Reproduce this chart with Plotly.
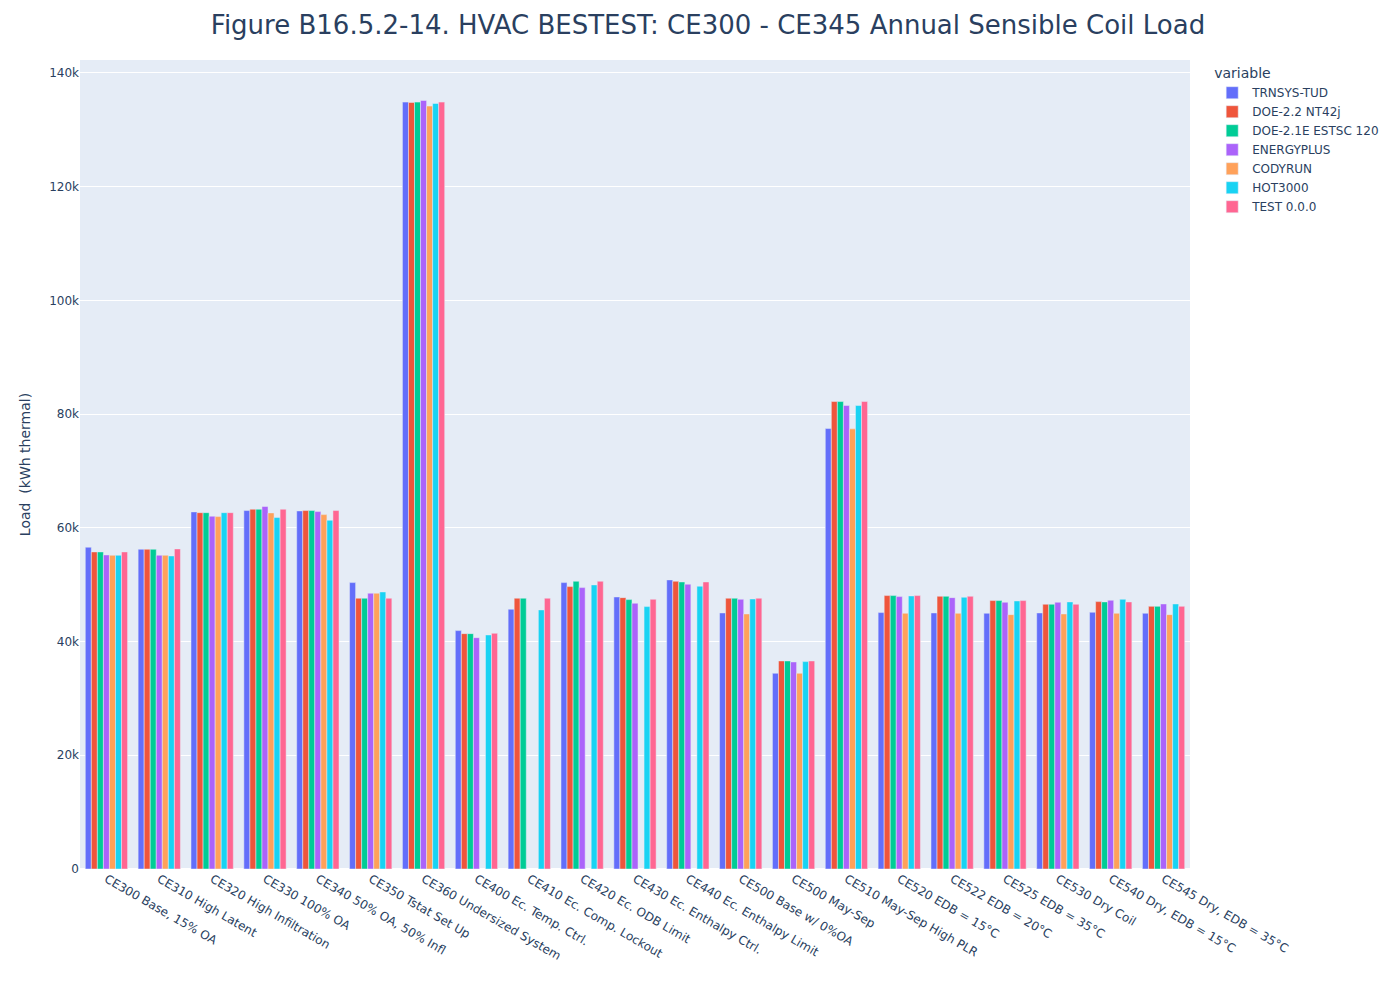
import plotly.graph_objects as go

cases = [
    "CE300 Base, 15% OA",
    "CE310 High Latent",
    "CE320 High Infiltration",
    "CE330 100% OA",
    "CE340 50% OA, 50% Infl",
    "CE350 Tstat Set Up",
    "CE360 Undersized System",
    "CE400 Ec. Temp. Ctrl.",
    "CE410 Ec. Comp. Lockout",
    "CE420 Ec. ODB Limit",
    "CE430 Ec. Enthalpy Ctrl.",
    "CE440 Ec. Enthalpy Limit",
    "CE500 Base w/ 0%OA",
    "CE500 May-Sep",
    "CE510 May-Sep High PLR",
    "CE520 EDB = 15°C",
    "CE522 EDB = 20°C",
    "CE525 EDB = 35°C",
    "CE530 Dry Coil",
    "CE540 Dry, EDB = 15°C",
    "CE545 Dry, EDB = 35°C",
]

# annual sensible coil load, kWh thermal (None = no result)
trnsys_tud = [56590, 56230, 62800, 63030, 62970, 50360, 134860, 41920, 45680, 50360, 47840,
              50840, 45030, 34420, 77450, 45090, 45030, 44970, 45030, 45150, 44970]
doe22_nt42j = [55760, 56230, 62660, 63270, 63030, 47620, 134800, 41390, 47620, 49660, 47720,
               50600, 47620, 36590, 82200, 48080, 47960, 47200, 46560, 47020, 46190]
doe21e_estsc = [55760, 56230, 62660, 63270, 63030, 47620, 134860, 41390, 47620, 50600, 47370,
                50480, 47620, 36590, 82200, 48080, 47960, 47200, 46560, 46970, 46190]
energyplus = [55230, 55170, 62040, 63740, 62850, 48500, 135150, 40680, None, 49480, 46730,
              50080, 47430, 36410, 81500, 47900, 47720, 46910, 46910, 47260, 46610]
codyrun = [55170, 55170, 61970, 62620, 62320, 48500, 134160, None, None, None, None,
           None, 44850, 34420, 77400, 44970, 44970, 44730, 44850, 44970, 44730]
hot3000 = [55170, 55050, 62660, 61800, 61330, 48720, 134620, 41160, 45560, 49960, 46140,
           49730, 47490, 36470, 81500, 48020, 47790, 47140, 46970, 47430, 46610]
test_000 = [55760, 56290, 62660, 63270, 63030, 47620, 134860, 41450, 47620, 50600, 47430,
            50480, 47620, 36590, 82200, 48080, 47960, 47200, 46560, 46970, 46190]

series = [
    ("TRNSYS-TUD", trnsys_tud, "#636EFA"),
    ("DOE-2.2 NT42j", doe22_nt42j, "#EF553B"),
    ("DOE-2.1E ESTSC 120", doe21e_estsc, "#00CC96"),
    ("ENERGYPLUS", energyplus, "#AB63FA"),
    ("CODYRUN", codyrun, "#FFA15A"),
    ("HOT3000", hot3000, "#19D3F3"),
    ("TEST 0.0.0", test_000, "#FF6692"),
]

fig = go.Figure()
for name, values, color in series:
    fig.add_trace(go.Bar(name=name, x=cases, y=values, marker_color=color))

fig.update_layout(
    template="plotly",
    barmode="group",
    width=1400,
    height=1000,
    font=dict(family="DejaVu Sans"),
    title=dict(
        text="Figure B16.5.2-14. HVAC BESTEST: CE300 - CE345 Annual Sensible Coil Load",
        x=0.5,
        xanchor="center",
        font=dict(size=26),
    ),
    margin=dict(l=72, r=218, t=52, b=139),
    yaxis_title="Load  (kWh thermal)",
    xaxis=dict(tickangle=30),
    legend=dict(title_text="variable"),
)

fig.write_html("out.html")
